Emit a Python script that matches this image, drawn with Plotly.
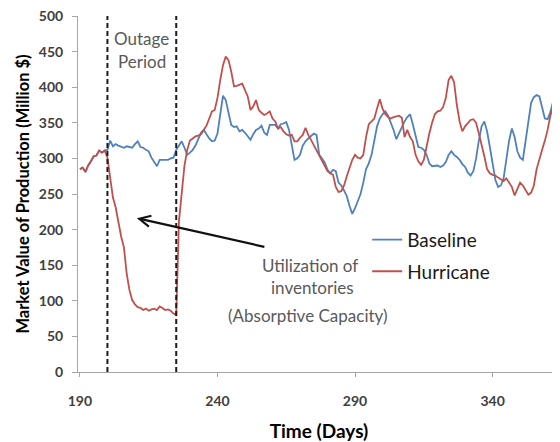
import plotly.graph_objects as go

# ---------------- data ----------------
days = list(range(190, 365))

hurricane = [
    285, 287, 281, 290, 296, 303, 304, 311, 308, 311,
    301, 273, 245, 231, 208, 190, 175, 138, 115, 101,
    95, 91, 90, 87, 89, 86, 88, 89, 87, 92,
    90, 87, 88, 86, 82, 80, 212, 255, 290, 312,
    325, 328, 331, 332, 334, 340, 346, 356, 366, 368,
    385, 410, 431, 443, 438, 422, 401, 402, 403, 405,
    396, 387, 368, 373, 382, 368, 364, 361, 363, 366,
    356, 352, 342, 344, 338, 334, 332, 333, 324, 324,
    329, 333, 343, 333, 326, 319, 312, 305, 298, 291,
    282, 279, 277, 260, 253, 254, 262, 275, 287, 298,
    305, 301, 300, 305, 330, 348, 352, 356, 370, 383,
    370, 362, 358, 356, 358, 359, 360, 357, 330, 340,
    330, 324, 305, 296, 291, 298, 318, 335, 350, 362,
    366, 367, 372, 385, 410, 416, 407, 375, 352, 338,
    345, 350, 354, 355, 350, 335, 320, 303, 285, 279,
    277, 276, 273, 270, 268, 272, 265, 260, 248, 256,
    266, 262, 255, 249, 252, 262, 285, 300, 312, 325,
    340, 360, 375, 386, 382,
]

baseline = [
    285, 287, 281, 290, 296, 303, 304, 311, 308, 311,
    312, 325, 317, 320, 318, 317, 315, 317, 316, 315,
    320, 324, 316, 315, 312, 310, 301, 295, 289, 298,
    298, 298, 298, 300, 301, 312, 318, 324, 315, 305,
    308, 312, 318, 328, 336, 340, 334, 328, 324, 325,
    335, 362, 388, 382, 365, 347, 344, 345, 338, 340,
    336, 331, 326, 334, 340, 342, 346, 336, 333, 347,
    347, 347, 342, 348, 349, 351, 340, 320, 298, 300,
    305, 318, 324, 328, 331, 335, 333, 305, 300, 294,
    284, 279, 284, 282, 266, 262, 255, 247, 233, 222,
    230, 240, 250, 266, 285, 293, 305, 325, 345, 356,
    362, 366, 360, 350, 340, 327, 335, 345, 352, 358,
    362, 348, 330, 316, 315, 312, 305, 293, 289, 290,
    290, 288, 290, 295, 305, 310, 305, 302, 298, 292,
    288, 280, 276, 282, 300, 325, 345, 352, 338, 316,
    292, 270, 260, 262, 272, 300, 325, 342, 330, 310,
    301, 298, 325, 355, 378, 386, 389, 387, 373, 356,
    355, 365, 380, 392, 398,
]

x_ticks = [190, 240, 290, 340]
y_ticks = [0, 50, 100, 150, 200, 250, 300, 350, 400, 450, 500]
grid_values = [0, 100, 250, 300, 350, 400, 450, 500]
outage = [200, 225]

# ---------------- figure ----------------
FONT = "Lato"
BLUE = "#4F81BD"
RED = "#C0504D"

fig = go.Figure()
fig.add_trace(go.Scatter(x=days, y=baseline, mode="lines", name="Baseline",
                         line=dict(color=BLUE, width=1.8), legendgroup="b"))
fig.add_trace(go.Scatter(x=days, y=hurricane, mode="lines", name="Hurricane",
                         line=dict(color=RED, width=1.8), legendgroup="h"))

for d in outage:
    fig.add_shape(type="line", xref="x", yref="y", x0=d, x1=d, y0=0, y1=500,
                  line=dict(color="#1a1a1a", width=2, dash="5px,3px"), layer="above")

ann_font = dict(family=FONT, size=17, color="#595959")
fig.add_annotation(x=sum(outage) / 2, y=469, text="Outage", showarrow=False,
                   font=ann_font, xref="x", yref="y")
fig.add_annotation(x=sum(outage) / 2, y=436, text="Period", showarrow=False,
                   font=ann_font, xref="x", yref="y")

fig.add_annotation(x=273.6, y=150, text="Utilization of", showarrow=False,
                   font=dict(family=FONT, size=17, color="#595959"), xref="x", yref="y")
fig.add_annotation(x=274.5, y=119, text="inventories", showarrow=False,
                   font=dict(family=FONT, size=17, color="#595959"), xref="x", yref="y")
fig.add_annotation(x=273.0, y=80, text="(Absorptive Capacity)", showarrow=False,
                   font=dict(family=FONT, size=17, color="#595959"), xref="x", yref="y")

fig.add_annotation(x=210.7, y=216, ax=129, ay=29, text="", showarrow=True,
                   arrowhead=5, arrowsize=1.0, arrowwidth=2.2, arrowcolor="#111111",
                   standoff=0, xref="x", yref="y")

# The page body adds an 8px offset, so the figure is sized to fit the 560x442 window.
fig.update_layout(
    template="none",
    width=552, height=434,
    margin=dict(l=70, r=0, t=8, b=70, autoexpand=False),
    paper_bgcolor="white", plot_bgcolor="white",
    font=dict(family=FONT, color="#404040"),
    showlegend=True,
    legend=dict(x=0.600, y=0.425, xanchor="left", yanchor="top",
                bgcolor="rgba(0,0,0,0)", borderwidth=0,
                font=dict(family=FONT, size=19, color="#1a1a1a"),
                tracegroupgap=4, itemwidth=30),
    xaxis=dict(range=[189.3, 364.5], tickvals=x_ticks, showgrid=False, automargin=False,
               showline=True, linecolor="#A6A6A6", linewidth=1,
               ticks="outside", ticklen=4, tickcolor="#A6A6A6",
               tickfont=dict(family=FONT, size=14, color="#404040", weight="bold"),
               ticklabelstandoff=12, zeroline=False,
               title=dict(text="<b>Time (Days)</b>", standoff=16,
                          font=dict(family=FONT, size=19, color="#000000"))),
    yaxis=dict(range=[0, 500], tickvals=y_ticks, showgrid=False, automargin=False,
               showline=True, linecolor="#A6A6A6", linewidth=1,
               ticks="outside", ticklen=5, tickcolor="#A6A6A6",
               tickfont=dict(family=FONT, size=14, color="#404040", weight="bold"),
               ticklabelstandoff=6, zeroline=False, ticklabeloverflow="allow",
               title=dict(text="<b>Market Value of Production (Million $)</b>", standoff=5,
                          font=dict(family=FONT, size=16.5, color="#000000"))),
    yaxis2=dict(range=[0, 500], overlaying="y", anchor="x", side="left", automargin=False,
                tickvals=grid_values, showgrid=True, gridcolor="#BFBFBF", gridwidth=1,
                showticklabels=False, ticks="", showline=False, zeroline=False),
)

fig.write_html("out.html")
